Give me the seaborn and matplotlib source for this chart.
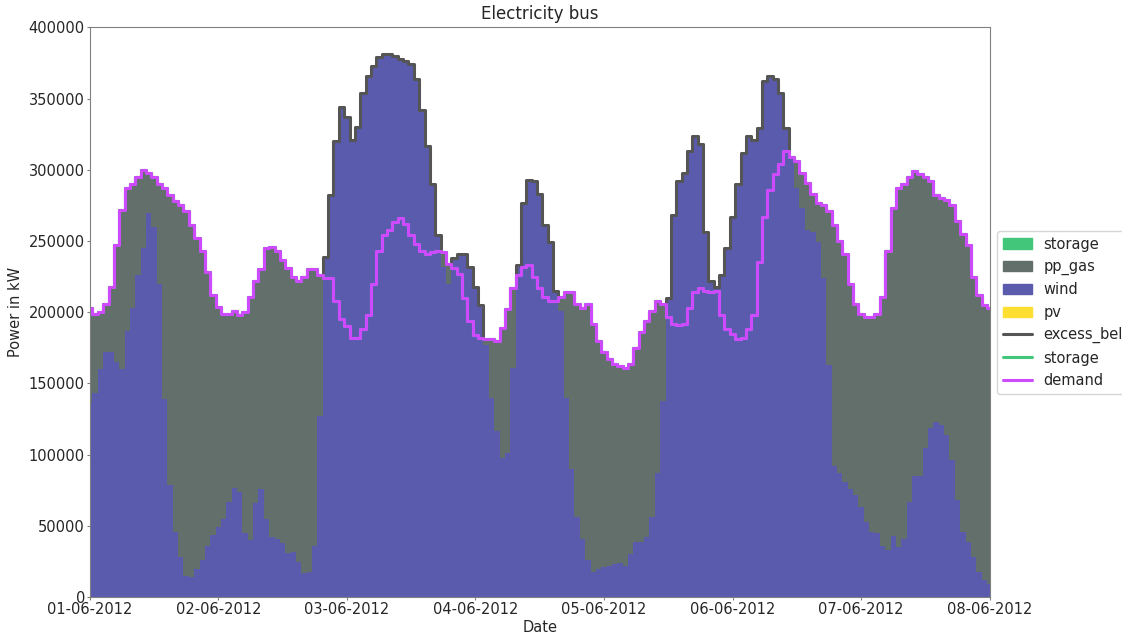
import numpy as np
import pandas as pd
import seaborn as sns
import matplotlib
import matplotlib.pyplot as plt
import matplotlib.dates as mdates
from matplotlib.patches import Patch
from matplotlib.lines import Line2D

matplotlib.use('Agg')

# hourly values, 01-06-2012 00:00 .. 08-06-2012 00:00, in 1000 kW
wind_k = [
    136, 143, 160, 172, 172, 165, 160, 187, 203, 226, 245, 270, 260, 220, 139, 79, 46, 28, 15, 14, 20, 26, 36, 44,
    49, 55, 67, 77, 74, 45, 40, 66, 76, 55, 42, 41, 38, 31, 32, 25, 17, 18, 36, 127, 239, 282, 320, 344,
    337, 321, 330, 354, 366, 373, 379, 381, 381, 380, 378, 376, 374, 364, 342, 317, 290, 254, 232, 220, 238, 241, 241, 232,
    218, 205, 177, 140, 117, 98, 101, 161, 233, 277, 293, 292, 283, 261, 249, 215, 201, 140, 90, 56, 41, 26, 18, 20,
    21, 22, 23, 24, 22, 30, 39, 39, 42, 56, 87, 138, 210, 268, 292, 298, 313, 324, 318, 256, 222, 218, 226, 245,
    267, 290, 312, 324, 321, 329, 362, 366, 364, 354, 329, 308, 287, 273, 258, 256, 249, 224, 163, 92, 87, 81, 76, 72,
    63, 53, 46, 45, 36, 33, 43, 35, 41, 67, 85, 85, 105, 119, 123, 121, 114, 96, 68, 46, 39, 28, 18, 12,
    9,
]
demand_k = [
    203, 199, 200, 206, 218, 247, 272, 287, 290, 295, 300, 298, 295, 290, 287, 282, 278, 275, 271, 261, 252, 243, 228, 212,
    204, 199, 199, 201, 198, 200, 211, 222, 230, 245, 246, 243, 237, 231, 225, 222, 225, 230, 230, 226, 224, 224, 208, 195,
    190, 182, 182, 188, 198, 220, 243, 254, 258, 263, 266, 262, 254, 248, 243, 241, 242, 243, 242, 234, 231, 227, 210, 194,
    184, 182, 181, 181, 180, 189, 202, 217, 226, 232, 233, 225, 217, 211, 208, 208, 211, 214, 214, 206, 203, 206, 192, 180,
    172, 167, 164, 162, 161, 164, 175, 186, 194, 201, 208, 206, 197, 192, 191, 192, 203, 214, 217, 215, 214, 215, 198, 188,
    185, 181, 182, 188, 198, 235, 267, 286, 297, 304, 313, 309, 306, 298, 291, 283, 277, 275, 271, 261, 250, 241, 220, 206,
    199, 197, 197, 199, 211, 243, 273, 287, 290, 295, 299, 297, 295, 292, 282, 280, 279, 275, 264, 255, 247, 225, 212, 205,
    203,
]

dates = pd.date_range('2012-06-01 00:00', '2012-06-08 00:00', freq='h')
wind = np.array(wind_k) * 1000.0
demand = np.array(demand_k) * 1000.0
pv = np.zeros(len(dates))
storage_out = np.zeros(len(dates))
storage_in = np.zeros(len(dates))
pp_gas = np.clip(demand - wind, 0, None)
excess = np.clip(wind - demand, 0, None)

colors = {'storage': '#42c77a', 'pp_gas': '#636f6b', 'wind': '#5b5bae',
          'pv': '#ffde32', 'excess_bel': '#555555', 'demand': '#ce4aff'}

sns.set_style('ticks')
plt.rcParams['font.size'] = 10.5

fig, ax = plt.subplots(figsize=(11.22, 6.34), dpi=100)
fig.subplots_adjust(left=0.080, right=0.882, top=0.957, bottom=0.058)

# stacked areas (bottom to top): pv, wind, pp_gas, storage
base = np.zeros(len(dates))
for name, vals in [('pv', pv), ('wind', wind), ('pp_gas', pp_gas), ('storage', storage_out)]:
    ax.fill_between(dates, base, base + vals, step='mid', color=colors[name], linewidth=0)
    base = base + vals

# stacked lines: demand, storage charge, excess
lines = pd.DataFrame({'date': dates,
                      'demand': demand,
                      'storage': demand + storage_in,
                      'excess_bel': demand + storage_in + excess})
for name in ['excess_bel', 'storage', 'demand']:
    sns.lineplot(data=lines, x='date', y=name, ax=ax, color=colors[name],
                 linewidth=2.2, drawstyle='steps-mid')

ax.set_xlim(dates[0], dates[-1])
ax.set_ylim(0, 400000)
ax.xaxis.set_major_locator(mdates.DayLocator())
ax.xaxis.set_major_formatter(mdates.DateFormatter('%d-%m-%Y'))
ax.tick_params(labelsize=10.5, length=2, pad=1.5, color='#808080')
for sp in ax.spines.values():
    sp.set_color('#808080')
ax.set_title('Electricity bus', fontsize=12)
ax.set_xlabel('Date', labelpad=2)
ax.set_ylabel('Power in kW')

handles = [Patch(color=colors['storage']), Patch(color=colors['pp_gas']),
           Patch(color=colors['wind']), Patch(color=colors['pv']),
           Line2D([], [], color=colors['excess_bel'], lw=2.2),
           Line2D([], [], color=colors['storage'], lw=2.2),
           Line2D([], [], color=colors['demand'], lw=2.2)]
labels = ['storage', 'pp_gas', 'wind', 'pv', 'excess_bel', 'storage', 'demand']
ax.legend(handles, labels, loc='center left', bbox_to_anchor=(1.0, 0.5), fontsize=10.5)

plt.savefig('out.png', dpi=100)
